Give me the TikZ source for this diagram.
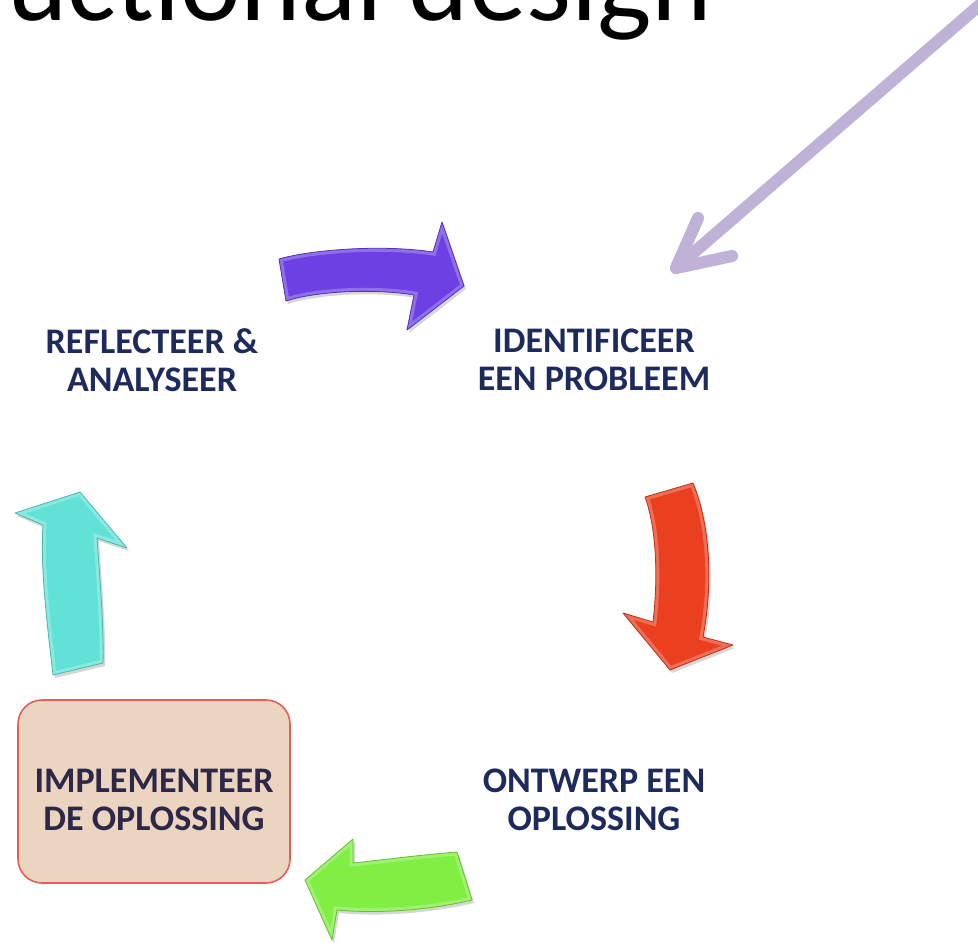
\documentclass[tikz,border=0pt]{standalone}
\usepackage{fontspec}
\setmainfont{Carlito}
\definecolor{navy}{RGB}{30,42,92}
\definecolor{boxtext}{RGB}{45,40,72}
\definecolor{purp}{RGB}{108,64,226}
\definecolor{redarr}{RGB}{234,64,32}
\definecolor{greenarr}{RGB}{128,238,66}
\definecolor{cyanarr}{RGB}{98,226,214}
\definecolor{lav}{RGB}{192,178,214}
\definecolor{boxfill}{RGB}{235,213,192}
\definecolor{boxline}{RGB}{226,96,88}
\newcommand\pathPurple{(279,259) .. controls (310,250) and (380,244) .. (433,252) -- (442,222) -- (464,286) -- (407,330) -- (414,295) .. controls (380,289) and (320,290) .. (286,301) -- cycle}
\newcommand\pathRed{(645,497) -- (693,483) .. controls (712,530) and (712,590) .. (703,637) -- (733,645) -- (670,670) -- (623,613) -- (653,622) .. controls (658,580) and (657,530) .. (645,497) -- cycle}
\newcommand\pathGreen{(457,852) -- (472,900) .. controls (430,910) and (380,914) .. (337,910) -- (332,940) -- (305,880) -- (353,839) -- (353,863) .. controls (390,859) and (420,855) .. (457,852) -- cycle}
\newcommand\pathCyan{(80,492) -- (127,548) -- (97,538) .. controls (100,580) and (104,630) .. (103,663) -- (53,675) .. controls (48,630) and (40,570) .. (43,525) -- (15,513) -- cycle}
\newcommand\bevelarrow[2]{%
  \fill[black, opacity=0.16, xshift=2pt, yshift=-3pt] #1;
  \fill[#2] #1;
  \begin{scope}
    \clip #1;
    \draw[#2!55!white, line width=7pt, opacity=0.55] #1;
  \end{scope}
  \draw[#2!80!black, line width=0.8pt, line join=round] #1;
}
\begin{document}
\begin{tikzpicture}[x=1pt,y=-1pt,
  lab/.style={font=\fontsize{36}{38}\selectfont\bfseries, text=navy, align=center, inner sep=0pt},
  implbox/.style={draw=boxline, line width=1.6pt, fill=boxfill, rounded corners=24pt,
    minimum width=272pt, minimum height=183pt, align=center, inner sep=0pt,
    font=\fontsize{36}{38}\selectfont\bfseries, text=boxtext, text height=78pt},
  lavline/.style={draw=lav, line width=12pt, line cap=round, line join=round}]
\useasboundingbox (0,0) rectangle (978,943);
\fill[white] (0,0) rectangle (978,943);
\begin{scope}
  \clip (0,0) rectangle (978,943);
  \node[anchor=base west, inner sep=0pt, font=\fontsize{115}{115}\selectfont] (title) at (7,20) {uctional design};
  % lavender pointer arrow
  \coordinate (lstart) at (990,-4);
  \coordinate (ltip) at (676,268);
  \coordinate (lbarbA) at (698,218);
  \coordinate (lbarbB) at (732,256);
  \begin{scope}[xshift=2pt, yshift=-2pt]
    \draw[lavline, draw=black, opacity=0.12] (lstart) -- (ltip);
    \draw[lavline, draw=black, opacity=0.12] (lbarbA) -- (ltip) -- (lbarbB);
  \end{scope}
  \draw[lavline] (lstart) -- (ltip);
  \draw[lavline] (lbarbA) -- (ltip) -- (lbarbB);
\end{scope}
% cycle arrows
\bevelarrow{\pathPurple}{purp}
\bevelarrow{\pathRed}{redarr}
\bevelarrow{\pathGreen}{greenarr}
\bevelarrow{\pathCyan}{cyanarr}
% labels
\node[lab] (reflect) at (152,360) {REFLECTEER \&\\ANALYSEER};
\node[lab] (identify) at (594,360) {IDENTIFICEER\\EEN PROBLEEM};
\node[lab] (design) at (594,800) {ONTWERP EEN\\OPLOSSING};
\node[implbox] (implement) at (154,791.5) {IMPLEMENTEER\\DE OPLOSSING};
\end{tikzpicture}
\end{document}
